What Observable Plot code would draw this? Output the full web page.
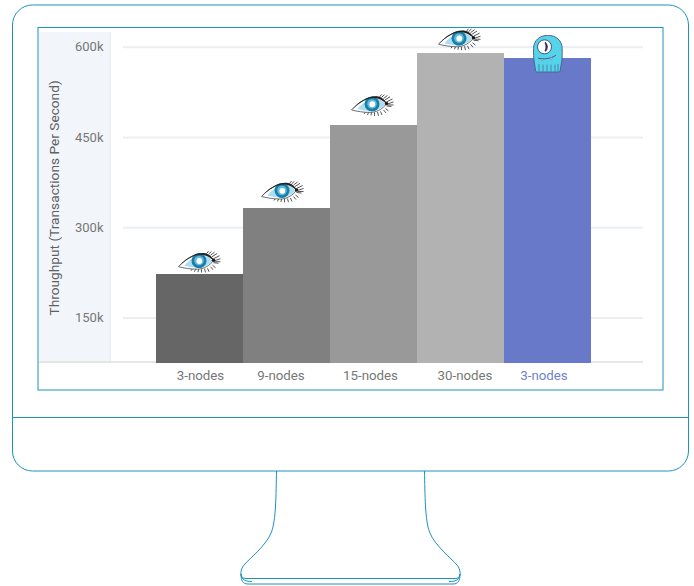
<!DOCTYPE html>
<html>
<head>
<meta charset="utf-8">
<script src="https://cdn.jsdelivr.net/npm/d3@7"></script>
<script src="https://cdn.jsdelivr.net/npm/@observablehq/plot@0.6"></script>
<style>
html,body{margin:0;padding:0;background:#fff;}
svg{display:block;}
</style>
</head>
<body>
<div id="chart"></div>
<script>
const barIds = ["a","b","c","d","e"];
const nodeLabels = ["3-nodes","9-nodes","15-nodes","30-nodes","3-nodes"];
const throughput = [222000,332000,470000,590000,581000];
const systems = ["cassandra","cassandra","cassandra","cassandra","scylla"];
const yTicks = [150000,300000,450000,600000];

const rows = barIds.map((id,i)=>({id,label:nodeLabels[i],value:throughput[i],system:systems[i]}));

const barColors = ["#666666","#808080","#999999","#b2b2b2","#6779c8"];
const labelColors = ["#777","#777","#777","#777","#6f81cc"];
const labelShift = [0.500,-6,-3.500,4,-4];
const eyeShift = [[-0.500,-13],[-4.500,-17],[-1.500,-20.500],[-1.500,-14]];
const LINE = "#1c93bb";

const eyeSvg = `<svg xmlns="http://www.w3.org/2000/svg" viewBox="0 0 44 22">
<g stroke="#2a2a2a" stroke-width=".8" fill="none">
<path d="M24 18.500v3.500M27 18l1 3.800M30 17.500l1.500 3.500M33 16l2.500 3M21 18.500l-.5 3M18 18.500l-1 2.500M15 18l-1.500 2M35 14.500l3 2.500"/>
<path d="M29 3l2-2.500M31 3.500l3-2.800M33 4.500l4-3M34.500 6l5-3.200M36 8l6-3M37 10l6-2M36 12l5 .5M37 11l6 0"/>
</g>
<path d="M1 16C9 7 18 2.500 26 3c4 .3 8 3 10 7-4 5-10 8.500-16 8.500C13 18.500 7 17.500 1 16Z" fill="#fff" stroke="#333" stroke-width=".7"/>
<path d="M7 15C12 8 20 4.500 27 5c3 .2 6 2.500 7.500 5.500-3.500 4-8.500 6.500-14 6.500C16 17 11 16 7 15Z" fill="#a9def3"/>
<circle cx="21.500" cy="10" r="7.500" fill="#1a7fa8"/>
<circle cx="21.500" cy="10" r="4.800" fill="#62bcd9"/>
<circle cx="21.800" cy="10.300" r="2.900" fill="#fff"/>
<path d="M1 16C9 7 18 1.800 26 2.300c4 .3 8.500 3 10.500 7.700C31 5.500 27 4 23 4 15 4 8 10 1 16Z" fill="#222"/>
<circle cx="36" cy="9.500" r="1.700" fill="#1a1a1a"/>
</svg>`;

const mascotSvg = `<svg xmlns="http://www.w3.org/2000/svg" viewBox="0 0 32 38">
<path d="M2 14C2 6 8 .7 16.300 .7S30.700 6 30.700 14c0 5 .2 9-.7 14-.4 3-1 5-1.200 7.500-.1 1.300-.8 1.900-2 1.900H6c-1.200 0-1.900-.6-2-1.900-.2-2.500-.8-4.500-1.200-7.500C2 23 2 19 2 14Z" fill="#55d3e8" stroke="#4a5a8a" stroke-width=".9"/>
<circle cx="13" cy="12.200" r="7" fill="#fff" stroke="#43527f" stroke-width="1"/>
<path d="M13.500 7.800a5.500 5.500 0 0 1 0 8.800c1.200-1.200 1.200-2.700 1.200-4.400s0-3.200-1.200-4.400Z" fill="#3a2d6b" stroke="#3a2d6b" stroke-width="1.400"/>
<path d="M6.500 23.500c5 1.500 13 .8 18-3" fill="none" stroke="#43527f" stroke-width=".9"/>
<path d="M9.500 24.300l1 2.200 1.200-2ZM18.500 23.500l1.200 2 1-2.800Z" fill="#fff" stroke="#43527f" stroke-width=".4"/>
<path d="M7.500 29.500V37M11.500 30V37M15.500 30V37M19.500 30V37M23.500 30V37M26.500 29.500V37" stroke="#43527f" stroke-width=".6" fill="none"/>
</svg>`;
const uri = s => "data:image/svg+xml;charset=utf-8," + encodeURIComponent(s);

function chrome() {
  const g = d3.create("svg:g").attr("fill","none");
  g.append("rect").attr("x",39).attr("y",32).attr("width",71).attr("height",329.500).attr("fill","#f2f6fa");
  g.append("rect").attr("x",109.500).attr("y",32).attr("width",1.500).attr("height",329.500).attr("fill","#e9edf1");
  return g.node();
}
function baseline(index, scales) {
  const y = scales.y(75000);
  return d3.create("svg:rect").attr("x",39).attr("y",y-1.700).attr("width",604).attr("height",2)
    .attr("fill","#e6e6e6").node();
}
function monitor() {
  const g = d3.create("svg:g").attr("fill","none").attr("stroke",LINE).attr("stroke-width",1);
  g.append("rect").attr("x",38).attr("y",27.500).attr("width",625).attr("height",362.500);
  g.append("rect").attr("x",12.500).attr("y",5).attr("width",676).attr("height",466).attr("rx",20).attr("ry",20);
  g.append("path").attr("d","M12.500 417.500H688.500");
  g.append("path").attr("d","M276.500 471C276 495 276 520 271.500 532C266 546 250 558 244 565C240 570 240 576 243 579C245 581 248 581.500 252 581.500");
  g.append("path").attr("d","M424.500 471C425 495 425 520 429.500 532C435 546 451 558 457 565C461 570 461 576 458 579C456 581 453 581.500 449 581.500");
  g.append("path").attr("d","M241 574C241 577 243 578.500 246 578.500H455C458 578.500 460 577 460 574");
  g.append("path").attr("d","M241 574C241 581 243 584 248 584H453C458 584 460 581 460 574");
  return g.node();
}

const marks = [
  chrome,
  Plot.ruleY(yTicks, {y:d=>d, stroke:"#ebeff2", strokeWidth:2, insetLeft:13}),
  baseline,
  Plot.barY(rows, {x:"id", y1:75000, y2:"value", fill:(d,i)=>barColors[i], shapeRendering:"crispEdges"}),
  Plot.axisY({ticks:yTicks, tickSize:0, tickPadding:7, tickFormat:d=>`${d/1000}k`, label:null,
    fontFamily:"Roboto", fontSize:13, color:"#777", fill:"#777"}),
  Plot.text(["Throughput (Transactions Per Second)"], {
    text:d=>d, frameAnchor:"left", rotate:-90, dx:-55.500, dy:22,
    fontFamily:"Roboto", fontSize:13.700, fontWeight:400, fill:"#606060"}),
  ...rows.map((d,i)=>Plot.text([d], {x:"id", y:75000, text:"label", dx:labelShift[i], dy:12.500,
    fontFamily:"Roboto", fontSize:13.300, fill:labelColors[i]})),
  ...rows.filter(d=>d.system==="cassandra").map((d,i)=>Plot.image([d], {x:"id", y:"value",
    dx:eyeShift[i][0], dy:eyeShift[i][1], src:()=>uri(eyeSvg), width:44, height:22})),
  ...rows.filter(d=>d.system==="scylla").map(d=>Plot.image([d], {x:"id", y:"value",
    dx:-0.500, dy:-5, src:()=>uri(mascotSvg), width:32, height:38})),
  monitor
];

const chart = Plot.plot({
  width:694, height:586,
  marginLeft:110, marginRight:51, marginTop:0, marginBottom:0,
  style:{background:"transparent", overflow:"visible"},
  x:{domain:barIds, range:[156,591], padding:0, axis:null},
  y:{domain:[75000,600000], range:[362.700,46.700], axis:null},
  marks
});
document.getElementById("chart").appendChild(chart);
</script>
</body>
</html>
